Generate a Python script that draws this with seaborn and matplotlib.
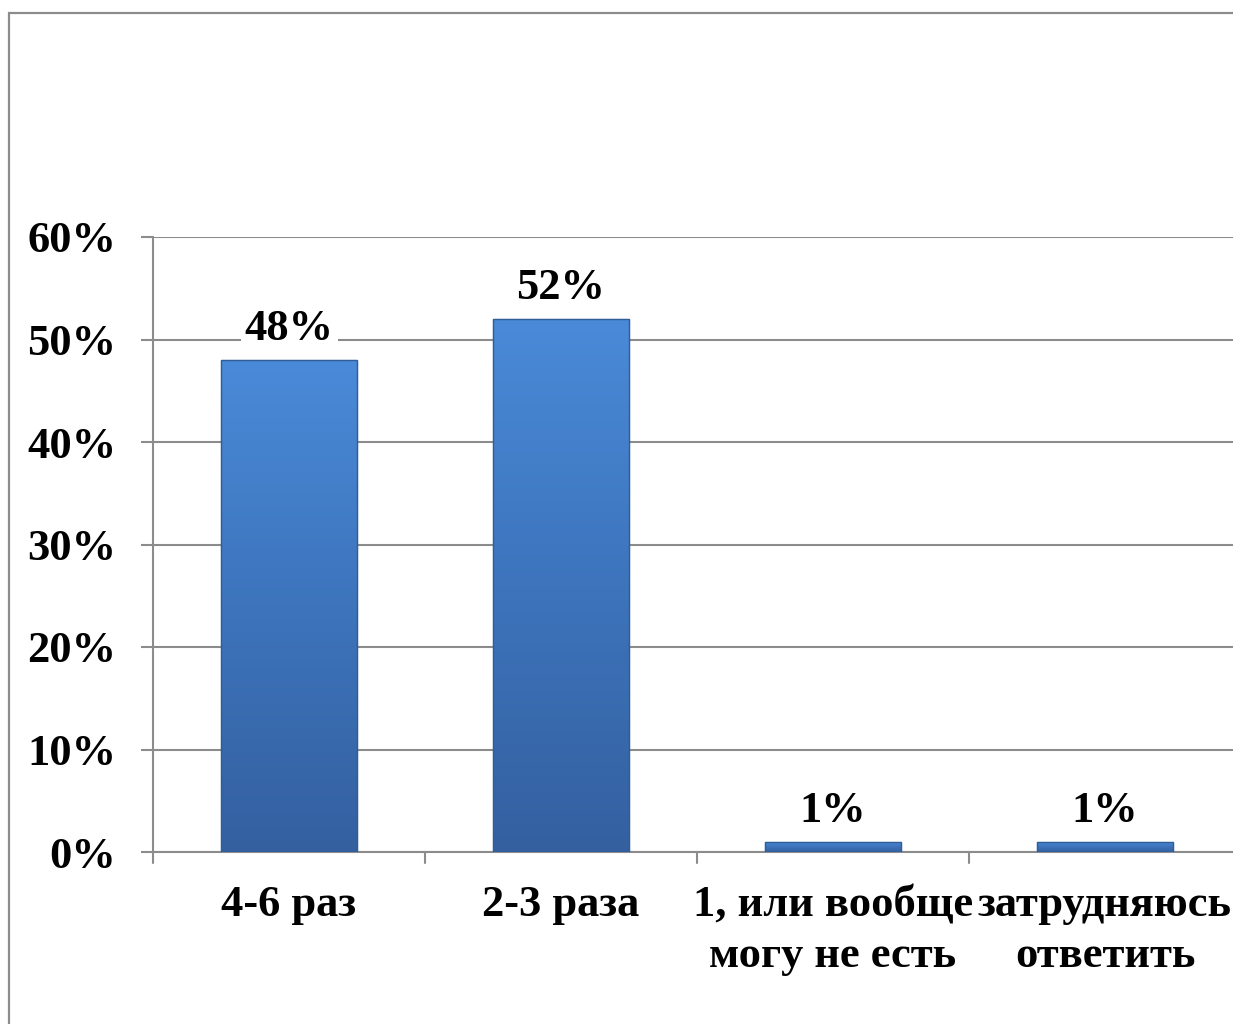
import numpy as np
import pandas as pd
import matplotlib
matplotlib.use("Agg")
import matplotlib.pyplot as plt
from matplotlib.patches import Rectangle
from matplotlib.colors import LinearSegmentedColormap
import seaborn as sns

categories = ["4-6 раз", "2-3 раза", "1, или вообще\nмогу не есть", "затрудняюсь\nответить"]
values = [48, 52, 1, 1]
y_ticks = [0, 10, 20, 30, 40, 50, 60]
y_tick_labels = ["0%", "10%", "20%", "30%", "40%", "50%", "60%"]

sns.set_theme(style="white")
plt.rcParams["font.family"] = ["Liberation Serif", "DejaVu Serif"]
plt.rcParams["font.weight"] = "bold"
plt.rcParams["text.color"] = "black"
plt.rcParams["xtick.color"] = "black"
plt.rcParams["ytick.color"] = "black"

W, H = 1233, 1024
fig = plt.figure(figsize=(W / 100, H / 100), dpi=100)
fig.patch.set_facecolor("white")

# outer frame (runs off the right and bottom edges)
fig.add_artist(Rectangle((9 / W, -0.05), 1.1, 1 - 13 / H + 0.05,
                         transform=fig.transFigure, fill=False,
                         edgecolor="#8c8c8c", linewidth=1.6))

ax = fig.add_axes([153 / W, 1 - 852 / H, (1241 - 153) / W, (852 - 237) / H])

df = pd.DataFrame({"cat": categories, "val": values})
sns.barplot(data=df, x="cat", y="val", ax=ax, width=0.5,
            color="#4080cc", edgecolor="#2f5d96", linewidth=0.8, zorder=3)

ax.set_ylim(0, 60)
ax.set_xlim(-0.5, 3.5)
ax.set_yticks(y_ticks)
ax.set_yticklabels(y_tick_labels, fontsize=32, fontweight="bold", color="black")
ax.set_xlabel("")
ax.set_ylabel("")
ax.set_xticks(range(len(categories)))
ax.set_xticklabels(categories, fontsize=32, fontweight="bold", color="black",
                   linespacing=1.35)
ax.tick_params(axis="x", length=0, pad=24)
ax.tick_params(axis="y", length=8.6, width=1.5, color="#8c8c8c", pad=18,
               left=True, labelcolor="black")

# category separators on the x axis
for b in np.arange(-0.5, 4.0, 1.0):
    ax.plot([b, b], [0, -1.1], color="#8c8c8c", lw=1.5, clip_on=False, zorder=4)

ax.yaxis.grid(True, color="#8c8c8c", linewidth=1.5)
ax.set_axisbelow(True)
for s in ["top", "right"]:
    ax.spines[s].set_visible(False)
ax.spines["left"].set_color("#8c8c8c")
ax.spines["left"].set_linewidth(1.5)
ax.spines["bottom"].set_color("#8c8c8c")
ax.spines["bottom"].set_linewidth(1.5)

# vertical gradient fill on each bar
cmap = LinearSegmentedColormap.from_list("barfill", ["#3460a0", "#3d74bc", "#4a8ad8"])
grad = np.linspace(0, 1, 256).reshape(-1, 1)
for patch in ax.patches:
    x0, y0 = patch.get_x(), patch.get_y()
    w, h = patch.get_width(), patch.get_height()
    im = ax.imshow(grad, cmap=cmap, aspect="auto", origin="lower",
                   extent=[x0, x0 + w, y0, y0 + h], zorder=3.5)
    im.set_clip_path(patch)
    ax.add_patch(Rectangle((x0, y0), w, h, fill=False, edgecolor="#2f5d96",
                           linewidth=1.0, zorder=3.6))

ax.set_xlim(-0.5, 3.5)
ax.set_ylim(0, 60)

for i, v in enumerate(values):
    ax.annotate(f"{v}%", (i, v), xytext=(0, 31), textcoords="offset pixels",
                ha="center", va="center", fontsize=32, fontweight="bold",
                color="black",
                bbox=dict(facecolor="white", edgecolor="none", pad=3), zorder=5)

fig.savefig("out.png", dpi=100, facecolor="white")
